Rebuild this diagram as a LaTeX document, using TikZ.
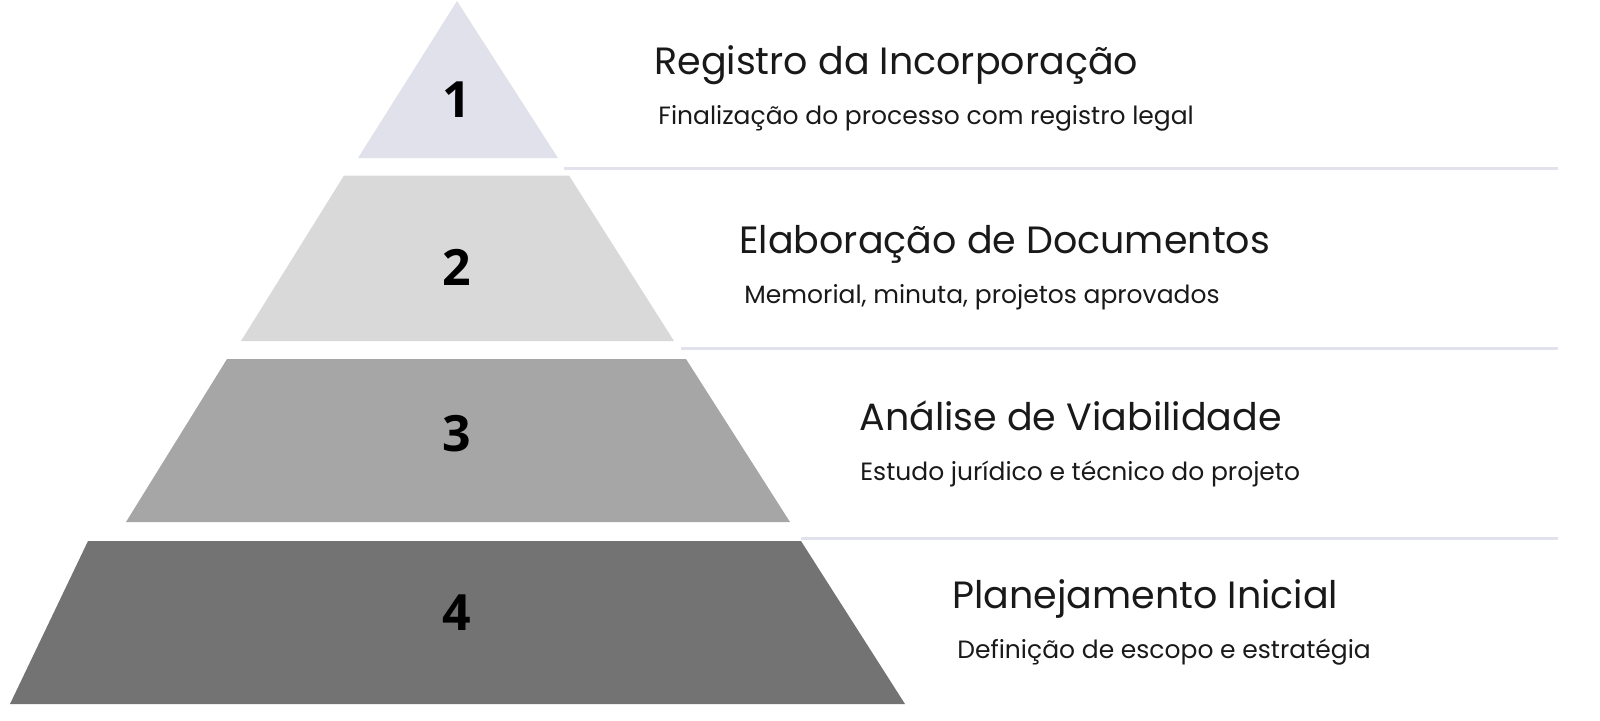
\documentclass[tikz,border=0pt]{standalone}
\usepackage{fontspec}
\setmainfont{Poppins}
\newfontfamily\numfont{Open Sans}
\definecolor{tierA}{HTML}{E0E1EA}
\definecolor{tierB}{HTML}{D9D9D9}
\definecolor{tierC}{HTML}{A6A6A6}
\definecolor{tierD}{HTML}{737373}
\definecolor{sepline}{HTML}{E2E2EC}
\tikzset{
  tier/.style={draw=none},
  num/.style={font=\numfont\bfseries\fontsize{25}{25}\selectfont, text=black, inner sep=0pt},
  ttl/.style={font=\fontsize{19}{19}\selectfont, anchor=base west, inner sep=0pt, text=black!90},
  sub/.style={font=\fontsize{12.5}{12.5}\selectfont, anchor=base west, inner sep=0pt, text=black!90},
  sep/.style={draw=sepline, line width=1.5pt},
}
\begin{document}
\begin{tikzpicture}[x=0.5pt,y=-0.5pt]
\useasboundingbox (0,0) rectangle (1600,720);
% tiers
\fill[tierA, tier] (457,1) -- (558,158) -- (358,158) -- cycle;
\fill[tierB, tier] (344,175.5) -- (569,175.5) -- (674,341) -- (241,341) -- cycle;
\fill[tierC, tier] (227,359) -- (686,359) -- (790,522) -- (126,522) -- cycle;
\fill[tierD, tier] (88,541) -- (801,541) -- (905,704) -- (10,704) -- cycle;
% numbers
\node[num] (n1) at (457,100) {1};
\node[num] (n2) at (457,267) {2};
\node[num] (n3) at (457,434) {3};
\node[num] (n4) at (457,613) {4};
% separators
\coordinate (s1a) at (564,168); \coordinate (s1b) at (1558,168);
\coordinate (s2a) at (681,348); \coordinate (s2b) at (1558,348);
\coordinate (s3a) at (801,538); \coordinate (s3b) at (1558,538);
\draw[sep] (s1a) -- (s1b);
\draw[sep] (s2a) -- (s2b);
\draw[sep] (s3a) -- (s3b);
% texts
\node[ttl] (t1) at (654,74.5) {Registro da Incorporação};
\node[sub] (d1) at (658,124.5) {Finalização do processo com registro legal};
\node[ttl] (t2) at (739,253) {Elaboração de Documentos};
\node[sub] (d2) at (744,303) {Memorial, minuta, projetos aprovados};
\node[ttl] (t3) at (859,430) {Análise de Viabilidade};
\node[sub] (d3) at (860,480.5) {Estudo jurídico e técnico do projeto};
\node[ttl] (t4) at (952,608) {Planejamento Inicial};
\node[sub] (d4) at (957,658) {Definição de escopo e estratégia};
\end{tikzpicture}
\end{document}
